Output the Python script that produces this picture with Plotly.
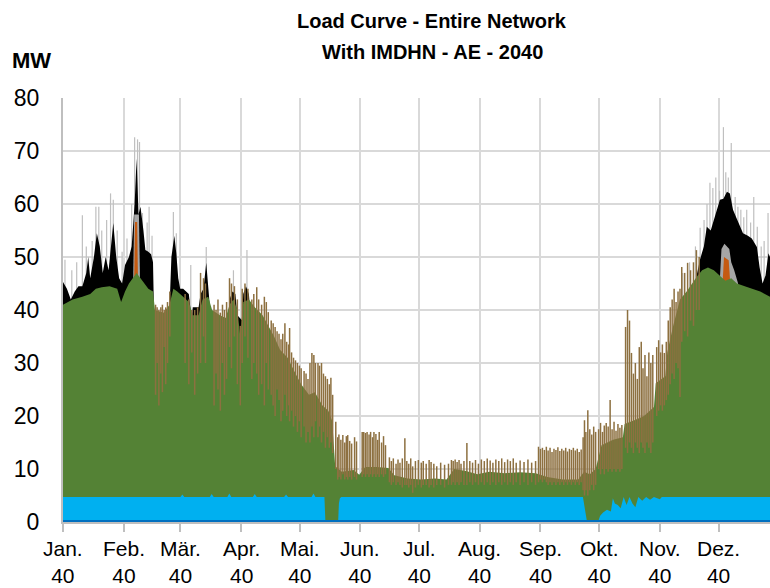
import plotly.graph_objects as go

# ---------------- data (MW, day of year 2040) ----------------
MONTH_START = [0, 31, 60, 91, 121, 152, 182, 213, 244, 274, 305, 335]
MONTH_LABELS = ["Jan.", "Feb.", "Mär.", "Apr.", "Mai.", "Jun.", "Jul.", "Aug.", "Sep.", "Okt.", "Nov.", "Dez."]
YEAR_LABEL = "40"

BASE_DAYS = [0, 366]
BASE_MW = [0.4, 0.4]

BLUE_DAYS = [0, 60, 61, 62, 75, 76, 77, 84, 85, 86, 97, 98, 99, 113, 114, 115, 127, 128, 129,
             133.6, 134.1, 140.6, 141.0, 141.5, 142.2, 265.7, 267.8, 273.4, 274.5, 276, 278, 280,
             281, 282, 283.5, 285, 286.5, 288, 289.5, 291, 292.5, 294, 296, 298, 300, 302, 305, 306, 366]
BLUE_MW = [4.7, 4.7, 5.2, 4.7, 4.7, 5.3, 4.7, 4.7, 5.4, 4.7, 4.7, 5.3, 4.7, 4.7, 5.2, 4.7, 4.7, 5.4, 4.7,
           4.7, 0, 0, 3.5, 4.5, 4.7, 4.7, 0, 0, 1.2, 1.8, 2.3, 2.0,
           4.5, 3.5, 3.2, 2.6, 4.7, 3.2, 4.7, 3.5, 2.8, 4.7, 4.0, 4.7, 4.2, 4.7, 4.3, 4.7, 4.7]

GREEN_DAYS = [0, 4.9, 9.9, 13.9, 16.8, 19.8, 23.8, 27.7, 29.7, 31.7, 33.7, 35.6, 37.6, 39.6, 41.6, 43.6,
              46.0, 47.0, 51.5, 54.4, 56.4, 58.4, 61.4, 64.3, 66.3, 69.3, 71.3, 74.2, 76.2, 80.2, 83.1,
              85.1, 87.1, 89.1, 90.6, 92.1, 95.0, 98.0, 102.0, 104.9, 107.9, 110.9, 114.8, 118.8, 121.7,
              125.7, 128.7, 132.6, 135.6, 137.6, 139.1, 142.5, 148.5, 151.4, 154.4, 160.3, 166.3, 169.3,
              176.2, 183.1, 190.0, 196.0, 199.9, 205.9, 211.8, 217.8, 225.7, 233.6, 241.5, 247.5, 255.4,
              263.3, 266.3, 269.2, 272.2, 275.2, 281.1, 286.1, 287.0, 292.0, 296.9, 302.0, 302.9, 307.8,
              308.8, 311.8, 315.3, 318.7, 323.7, 326.6, 329.6, 332.6, 335.5, 338.5, 341.5, 344.4, 348.4,
              352.4, 356.3, 361.3, 366]
GREEN_MW = [41.0, 42.0, 42.5, 43.0, 44.0, 44.3, 44.5, 44.0, 41.5, 43.5, 45.0, 46.0, 47.0, 46.0, 45.0, 44.0,
            43.5, 40.0, 39.5, 41.0, 44.0, 43.5, 42.5, 41.5, 39.0, 39.0, 42.0, 42.5, 40.0, 39.0, 38.5,
            41.0, 42.0, 40.0, 35.0, 41.5, 42.0, 40.5, 39.0, 37.0, 35.0, 32.5, 31.0, 28.0, 26.0,
            24.0, 24.5, 22.0, 21.0, 19.0, 10.5, 9.5, 9.8, 8.9, 10.4, 10.4, 10.2, 8.8,
            8.2, 8.0, 8.2, 8.0, 10.0, 9.6, 9.0, 9.5, 9.2, 9.4, 9.2, 8.5, 8.0,
            8.0, 9.5, 9.0, 10.0, 14.5, 15.5, 16.0, 18.5, 19.2, 20.0, 21.7, 26.2, 27.5,
            32.0, 37.0, 42.0, 43.5, 46.2, 47.5, 48.0, 47.5, 46.5, 45.5, 46.0, 45.0, 44.5,
            44.0, 43.5, 42.5, 42.5]

BLACK_WINTER_DAYS = [0, 2, 4, 6, 7.9, 9.9, 11.9, 12.9, 13.9, 15.8, 17.3, 18.8, 20.3, 21.8, 23.3, 24.7, 25.7,
                     27.2, 28.7, 30.2, 31.7, 33.7, 35.1, 36.6, 37.6, 38.6, 39.6, 41.1, 42.1, 43.6, 45.0,
                     46.0, 46.5, 47.0, 54.0, 54.4, 55.4, 56.9, 57.9, 58.9, 59.9, 61.4, 64.3, 65.8, 66.3,
                     69.3, 70.3, 71.8, 73.2, 74.2, 75.2, 76.0, 84.0, 84.6, 85.1, 86.6, 88.1, 89.1, 91.6,
                     92.1, 93.5, 95.0, 96.0, 96.5]
BLACK_WINTER_MW = [45.3, 44.0, 42.0, 43.5, 44.5, 44.5, 47.0, 50.0, 46.0, 50.0, 54.5, 52.0, 47.0, 50.0, 47.5,
                   53.0, 56.4, 50.0, 46.0, 45.0, 48.5, 50.0, 52.0, 60.0, 68.6, 58.0, 59.5, 55.0, 51.3,
                   51.0, 50.5, 49.0, 40.0, 30.0, 30.0, 40.0, 50.0, 54.0, 50.7, 46.0, 44.0, 44.0, 43.0,
                   38.0, 40.5, 40.5, 43.0, 44.0, 48.9, 44.0, 40.0, 30.0, 30.0, 38.0, 42.0, 43.5, 43.0,
                   39.0, 38.0, 43.0, 44.5, 43.0, 38.0, 30.0]

BLACK_DEC_DAYS = [323.5, 325.5, 327.5, 329, 331, 332.5, 334, 335.7, 337.5, 339.3, 340.8, 342.4, 344, 346,
                  347.5, 350, 352, 354.6, 356, 357.5, 359, 360.5, 361.3, 366]
BLACK_DEC_MW = [46.0, 49.5, 52.0, 55.7, 55.0, 57.0, 59.0, 60.8, 61.0, 62.3, 62.0, 58.9, 57.5, 55.7,
                54.5, 54.0, 53.5, 51.9, 48.0, 45.0, 46.5, 50.7, 50.0, 50.0]

GREY_FEB_DAYS = [35.9, 36.4, 38.8, 39.3]
GREY_FEB_MW = [47.0, 58.0, 58.0, 47.0]
GREY_DEC_DAYS = [335.7, 336.5, 338.0, 340.5, 341.5, 343.0, 345.0]
GREY_DEC_MW = [46.0, 51.5, 52.5, 51.5, 49.0, 47.5, 45.0]

ORANGE_FEB_DAYS = [36.4, 36.8, 37.9, 38.3]
ORANGE_FEB_MW = [46.0, 56.6, 56.6, 46.0]
ORANGE_DEC_DAYS = [337.2, 337.8, 340.2, 340.8]
ORANGE_DEC_MW = [46.0, 50.0, 49.4, 46.0]

GREY_SPIKE_DAY = [1, 4.5, 7, 9.9, 11.9, 14.9, 16.8, 18.3, 19.8, 22.3, 24.3, 25.7, 27.7, 30.2, 32.7, 35.1,
                  36.6, 38.1, 39.1, 40.6, 43.0, 44.0, 45.5, 56.4, 57.9, 65.3, 73.2, 87.1, 94.0,
                  316.7, 320.2, 323.2, 325.6, 327.6, 329.1, 330.6, 332.1, 333.6, 335.5, 337.5, 338.7,
                  340.0, 341.5, 343.5, 344.9, 346.4, 347.9, 349.4, 351.4, 353.0, 354.8, 356.8, 358.3, 360.3]
GREY_SPIKE_MW = [49.5, 47.5, 49.0, 57.9, 52.0, 53.0, 59.5, 59.5, 55.0, 57.0, 62.0, 60.8, 55.0, 51.0, 53.5, 60.0,
                 72.6, 72.2, 71.7, 58.3, 56.5, 59.5, 54.0, 58.5, 54.5, 48.5, 51.9, 47.5, 51.3,
                 47.0, 49.0, 52.0, 55.5, 57.0, 60.0, 64.0, 63.0, 65.0, 62.5, 74.5, 66.0,
                 65.0, 71.5, 61.3, 59.5, 58.9, 57.5, 58.9, 56.5, 61.3, 55.7, 52.0, 53.0, 58.3]
GREY_SPIKE_FLOOR = 40.0

BROWN_DAY = [47.3, 48.1, 49.0, 50.0, 50.8, 51.7, 52.5, 53.4, 54.6,
             62.4, 64.3, 65.8, 67.3, 68.8, 70.3, 71.8, 72.8,
             77.2, 78.2, 79.2, 80.4, 81.5, 82.5, 83.6,
             85.1, 86.1, 87.6, 89.1, 90.6, 91.6, 93.0, 94.5,
             96.5, 97.5, 99.0, 100.0, 101.5, 102.9, 103.9, 104.9,
             106.4, 107.4, 108.4, 109.4, 110.4, 111.4, 112.3, 113.4, 114.3, 115.3, 115.8, 116.8, 117.8, 118.8,
             119.8, 120.8, 121.7, 123.2, 124.2, 125.2, 126.2, 127.2, 128.2, 129.0, 130.3, 131.1, 132.1,
             133.1, 134.1, 135.1, 136.1, 136.9, 137.8,
             139.4, 140.4, 141.0, 142.0, 143.0, 144.0, 144.8, 145.5, 146.5, 147.5, 149.0, 150.0,
             152.9, 153.7, 154.6, 155.4, 156.4, 157.2, 158.2, 158.9, 159.9, 160.8, 161.6, 162.8, 163.8, 164.8,
             166.8, 167.8, 168.8, 170.2, 171.2, 172.2, 173.4, 174.7, 175.7, 176.7, 177.7, 178.7,
             180.1, 181.6, 183.1, 184.1, 185.6, 187.1, 188.1, 189.5, 191.0, 193.0, 195.0, 197.0,
             198.5, 199.4, 200.4, 201.4, 202.4, 203.4, 204.9, 206.4, 207.9, 209.3, 210.8, 212.3,
             213.8, 215.3, 216.8, 218.3, 219.7, 221.2, 222.7, 224.2, 225.7, 227.2, 228.6, 230.1, 231.6,
             233.6, 235.6, 237.6, 239.5, 241.5,
             243.0, 244.0, 245.0, 246.0, 247.0, 247.9, 248.9, 249.9, 250.9, 251.9, 252.9, 253.9, 254.9,
             255.9, 256.9, 257.8, 258.8, 259.8, 260.8, 261.8, 262.8, 263.8, 264.8,
             265.8, 266.5, 267.2, 268.2, 269.2, 270.2, 271.2, 272.2,
             273.7, 274.7, 275.7, 276.6, 277.6, 278.6, 279.6, 280.6, 281.6, 282.6, 283.6, 284.6, 285.6,
             287.5, 288.5, 289.5, 290.5, 291.5, 292.5, 293.5, 294.5, 295.5, 296.4, 297.4, 298.4, 299.4,
             300.4, 301.4,
             303.4, 304.4, 305.4, 306.3, 307.3, 308.3,
             309.3, 310.3, 311.3, 312.3, 313.3, 314.3, 315.3,
             316.2, 317.7, 319.2, 320.7, 322.2, 323.7, 325.1]
BROWN_LO = [24, 30, 22, 28, 24.5, 33, 26, 30, 35,
            30, 26, 32, 24, 28, 30, 35, 30,
            22, 28, 25, 21, 30, 24, 27,
            33, 29, 35, 26, 22, 30, 35, 31,
            27, 30, 28, 24, 26, 22, 30, 25,
            24, 22, 20, 25, 23, 19, 21, 24, 20, 22, 19, 21, 18, 20,
            17, 19, 16, 18, 15, 17, 15, 18, 16, 19, 16, 18, 15,
            17, 14, 16, 14, 15, 13,
            10, 8, 8.5, 8, 9, 8, 8.5, 8, 8.5, 8, 8.5, 8,
            8.5, 9, 8.5, 9, 8.5, 9, 8.5, 9, 8.5, 9, 8.5, 9, 8.5, 9,
            7.5, 7, 7.5, 7, 7.5, 7, 6.5, 7, 7, 6.5, 7, 5.5,
            6.5, 7, 6.5, 7, 7, 6.5, 7, 6.5, 7, 7, 6.5, 7,
            7, 7.5, 7, 7.5, 7, 7.5, 7, 7, 7.5, 7, 7.5, 7,
            7.5, 7, 7.5, 7, 7.5, 7, 7.5, 7, 7.5, 7, 7.5, 7, 7.5,
            7, 7.5, 7, 7.5, 7,
            7.5, 8, 7.5, 8, 7.5, 7, 7.5, 7, 7.5, 7, 7.5, 7, 7.5,
            7, 7.5, 7, 7.5, 7, 7.5, 7, 7.5, 7, 7.5,
            6, 5, 6, 5, 6, 7, 6, 7,
            10, 9, 10, 9, 10, 9.5, 10, 9.5, 10, 9.5, 10, 9.5, 10,
            14, 13, 15, 14, 13, 15, 14, 13, 15, 14, 13, 15, 14,
            13, 15,
            20, 21, 22, 21, 22, 23,
            24, 26, 28, 27, 30, 29, 23.6,
            34, 36, 35, 38, 37, 40, 40]
BROWN_HI = [41, 40.5, 40, 40.5, 41, 40, 40.5, 41.5, 43.5,
            43, 42, 40, 40, 40.5, 47, 46, 45,
            41, 40, 42, 39.5, 41, 40, 41.5,
            46, 45, 44.5, 42, 37, 44, 45, 44,
            42, 43, 44.3, 42, 41, 42.5, 41.5, 39.6,
            38, 37.5, 36.8, 36, 35.5, 34.5, 35.5, 37.5, 34, 33.5, 36.6, 32, 31, 30.5,
            30, 29.5, 29, 28.5, 28, 27, 30, 31.9, 31.5, 30, 30, 29.5, 30,
            28, 27.5, 27, 26, 27.2, 24,
            18.9, 16, 16.5, 15.5, 16.4, 15, 16.2, 16.4, 15.3, 14.8, 16, 15.2,
            17, 17, 16.8, 17, 16.5, 17, 16, 17, 16.6, 15.5, 17, 15, 16.2, 14.5,
            12.2, 11.5, 12, 11, 11.8, 11.2, 12, 15.8, 11.5, 11, 12, 10.5,
            11.5, 11.7, 11.2, 11.5, 11, 11.7, 11.3, 11, 10.5, 11.2, 10.8, 11,
            11.7, 11.5, 11.8, 11.3, 11.7, 11, 11.5, 14.9, 11.5, 11.2, 11.7, 11,
            11.8, 11.5, 12, 11.6, 11.2, 11.8, 11.5, 12, 11.3, 11.8, 11.5, 12, 11.2,
            11.6, 11.3, 11.8, 11.2, 11.5,
            14.2, 13.8, 14, 13.6, 14.2, 13.5, 14, 13.2, 13.8, 13.6, 14.1, 13.4, 13.8,
            13.5, 14, 13.3, 13.8, 13.6, 14, 13.5, 13.8, 13.2, 13.7,
            16, 19.2, 17, 21.1, 17.5, 16.5, 18, 17,
            17.5, 18.7, 17, 18.2, 18.7, 18, 23, 17.5, 18.9, 17.2, 18.5, 17.8, 18.3,
            36.8, 40, 38, 31.9, 28, 30, 27, 33, 34, 29, 31.5, 27.5, 32,
            30, 31.5,
            33, 34.3, 32, 33.5, 31.9, 34,
            38, 40.5, 42, 44, 41.5, 43.5, 44,
            48.1, 47, 48.9, 47.5, 49, 51.3, 50]

# ---------------- colours ----------------
C_BASE = "#0070C0"
C_BLUE = "#00B0F0"
C_GREEN = "#548235"
C_BLACK = "#000000"
C_GREY = "#A6A6A6"
C_ORANGE = "#C55A11"
C_BROWN = "#8D7040"
C_LIGHTGREY = "#BFBFBF"
C_GRID = "#D9D9D9"
FONT = "Liberation Sans, Arial, sans-serif"

# plot-area geometry (pixels)
L, R, T, B = 63, 0, 98, 66
W, H = 770, 588
PLOT_H = H - T - B


def spikes(days, lo, hi):
    xs, ys = [], []
    for d, a, b in zip(days, lo, hi):
        xs += [d, d, None]
        ys += [a, b, None]
    return xs, ys


def area(x, y, color):
    return go.Scatter(x=x, y=y, mode="lines", line=dict(width=0, color=color),
                      fill="tozeroy", fillcolor=color, hoverinfo="skip", showlegend=False)


def py(px_from_top):
    """pixel row -> paper y"""
    return (H - B - px_from_top) / PLOT_H


fig = go.Figure()

gx, gy = spikes(GREY_SPIKE_DAY, [GREY_SPIKE_FLOOR] * len(GREY_SPIKE_DAY), GREY_SPIKE_MW)
fig.add_trace(go.Scatter(x=gx, y=gy, mode="lines", line=dict(color=C_LIGHTGREY, width=1.2),
                         hoverinfo="skip", showlegend=False))
fig.add_trace(area(BLACK_WINTER_DAYS, BLACK_WINTER_MW, C_BLACK))
fig.add_trace(area(BLACK_DEC_DAYS, BLACK_DEC_MW, C_BLACK))
fig.add_trace(area(GREY_FEB_DAYS, GREY_FEB_MW, C_GREY))
fig.add_trace(area(GREY_DEC_DAYS, GREY_DEC_MW, C_GREY))
fig.add_trace(area(ORANGE_FEB_DAYS, ORANGE_FEB_MW, C_ORANGE))
fig.add_trace(area(ORANGE_DEC_DAYS, ORANGE_DEC_MW, C_ORANGE))
fig.add_trace(area(GREEN_DAYS, GREEN_MW, C_GREEN))
bx, by = spikes(BROWN_DAY, BROWN_LO, BROWN_HI)
fig.add_trace(go.Scatter(x=bx, y=by, mode="lines", line=dict(color=C_BROWN, width=1.5),
                         hoverinfo="skip", showlegend=False))
fig.add_trace(area(BLUE_DAYS, BLUE_MW, C_BLUE))
fig.add_trace(area(BASE_DAYS, BASE_MW, C_BASE))

annotations = []
for d, m in zip(MONTH_START, MONTH_LABELS):
    annotations.append(dict(text=f"{m}<br>{YEAR_LABEL}", xref="x", yref="paper", x=d, y=py(588),
                            xanchor="center", yanchor="bottom", showarrow=False, borderpad=0,
                            font=dict(size=21, family=FONT, color="black")))
annotations += [
    dict(text="<b>Load Curve - Entire Network</b>", xref="paper", yref="paper",
         x=(432 - L) / (W - L - R), y=py(21), xanchor="center", yanchor="middle", showarrow=False,
         font=dict(size=20, family=FONT, color="black")),
    dict(text="<b>With IMDHN - AE - 2040</b>", xref="paper", yref="paper",
         x=(432 - L) / (W - L - R), y=py(52), xanchor="center", yanchor="middle", showarrow=False,
         font=dict(size=20, family=FONT, color="black")),
    dict(text="<b>MW</b>", xref="paper", yref="paper",
         x=(31 - L) / (W - L - R), y=py(60), xanchor="center", yanchor="middle", showarrow=False,
         font=dict(size=22, family=FONT, color="black")),
]

fig.update_layout(
    width=W, height=H,
    margin=dict(l=L, r=R, t=T, b=B, autoexpand=False),
    paper_bgcolor="white", plot_bgcolor="white",
    font=dict(family=FONT, color="black"),
    showlegend=False,
    hovermode=False,
    xaxis=dict(range=[0, 361.3], tickmode="array", tickvals=MONTH_START, showticklabels=False,
               showgrid=True, gridcolor=C_GRID, gridwidth=2,
               ticks="outside", ticklen=8, tickwidth=2, tickcolor=C_LIGHTGREY,
               showline=True, linecolor=C_LIGHTGREY, linewidth=2,
               zeroline=False, automargin=False, fixedrange=True),
    yaxis=dict(range=[0, 80], dtick=10, showgrid=True, gridcolor=C_GRID, gridwidth=2,
               showline=True, linecolor=C_LIGHTGREY, linewidth=2, zeroline=False,
               ticks="", ticklabelstandoff=17, automargin=False, fixedrange=True,
               tickfont=dict(size=23, family=FONT, color="black")),
    annotations=annotations,
)

fig.write_html("out.html",
               config={"displayModeBar": False, "staticPlot": True},
               post_script="document.body.style.margin='0px';document.body.style.overflow='hidden';")
